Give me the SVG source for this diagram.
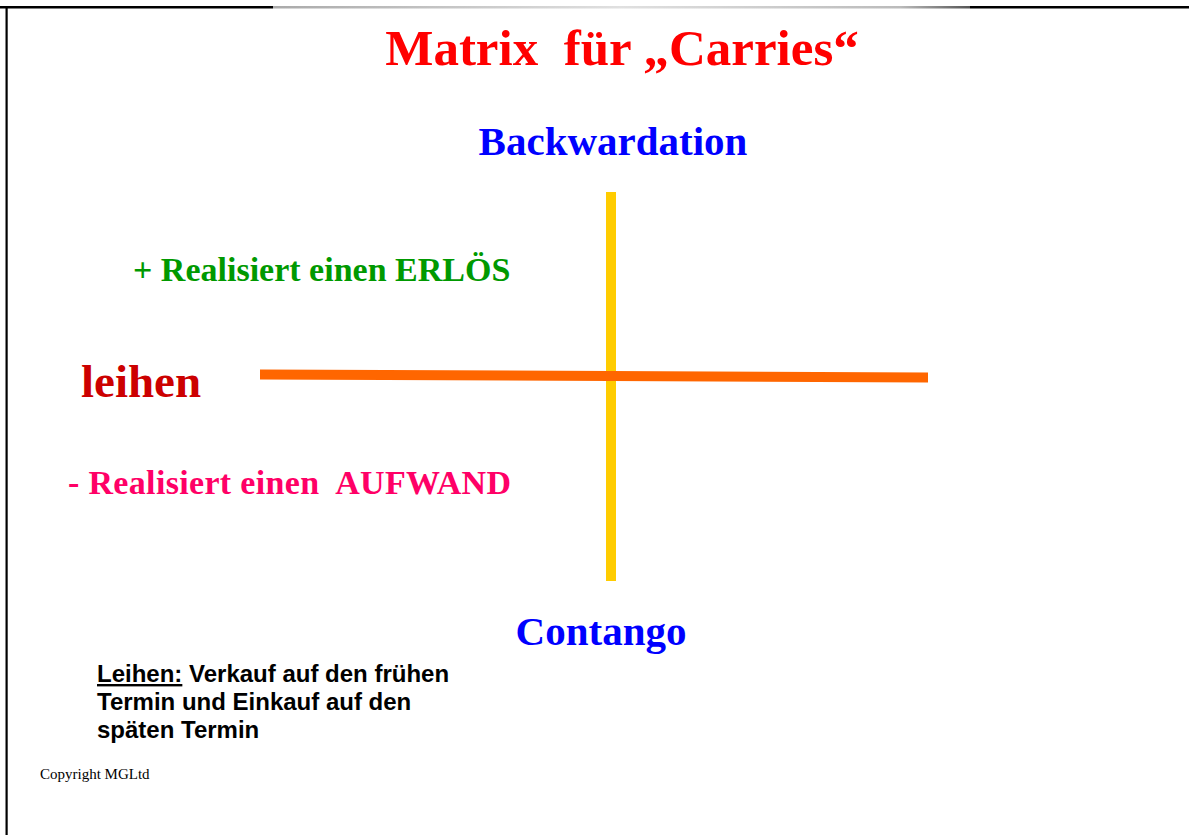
<svg xmlns="http://www.w3.org/2000/svg" width="1189" height="835" viewBox="0 0 1189 835">
<style>
.t{font-family:"Liberation Serif","Times New Roman",serif;font-weight:bold}
.s{font-family:"Liberation Sans",Arial,sans-serif;font-weight:bold;font-size:24px;fill:#000}
</style>
<defs>
<linearGradient id="g" x1="0" x2="1" y1="0" y2="0">
<stop offset="0" stop-color="#aaa"/>
<stop offset="0.5" stop-color="#e0e0e0"/>
<stop offset="0.9" stop-color="#bbb"/>
<stop offset="1" stop-color="#555"/>
</linearGradient>
</defs>
<rect width="1189" height="835" fill="#fff"/>
<g id="frame">
<rect x="0" y="6" width="273" height="2.5" fill="#000"/>
<rect x="273" y="6" width="697" height="2.5" fill="url(#g)"/>
<rect x="970" y="6" width="219" height="2.5" fill="#000"/>
<rect x="5.5" y="6" width="2.2" height="829" fill="#000"/>
</g>
<g id="connectors">
<line x1="611" y1="192" x2="611" y2="581" stroke="#FFCC00" stroke-width="10"/>
<line x1="260" y1="374.5" x2="928" y2="377.5" stroke="#FF6600" stroke-width="10"/>
</g>
<g id="title"><text class="t" x="622" y="65" font-size="51" fill="#FF0000" text-anchor="middle" xml:space="preserve">Matrix  für „Carries“</text></g>
<g id="backwardation"><text class="t" x="613" y="155" font-size="41" fill="#0000FF" text-anchor="middle">Backwardation</text></g>
<g id="erloes"><text class="t" x="133" y="281" font-size="34" fill="#009900">+ Realisiert einen ERLÖS</text></g>
<g id="leihen"><text class="t" x="81" y="397" font-size="47" fill="#CC0000">leihen</text></g>
<g id="aufwand"><text class="t" x="68" y="494" font-size="34" fill="#FF0066" xml:space="preserve" textLength="443" lengthAdjust="spacing">- Realisiert einen  AUFWAND</text></g>
<g id="contango"><text class="t" x="601" y="645" font-size="41" fill="#0000FF" text-anchor="middle">Contango</text></g>
<g id="note">
<text class="s" x="97" y="682"><tspan text-decoration="underline">Leihen:</tspan> Verkauf auf den frühen</text>
<text class="s" x="97" y="710">Termin und Einkauf auf den</text>
<text class="s" x="97" y="738">späten Termin</text>
</g>
<g id="copyright"><text x="40" y="779" font-family="'Liberation Serif','Times New Roman',serif" font-size="15" fill="#000">Copyright MGLtd</text></g>
</svg>
